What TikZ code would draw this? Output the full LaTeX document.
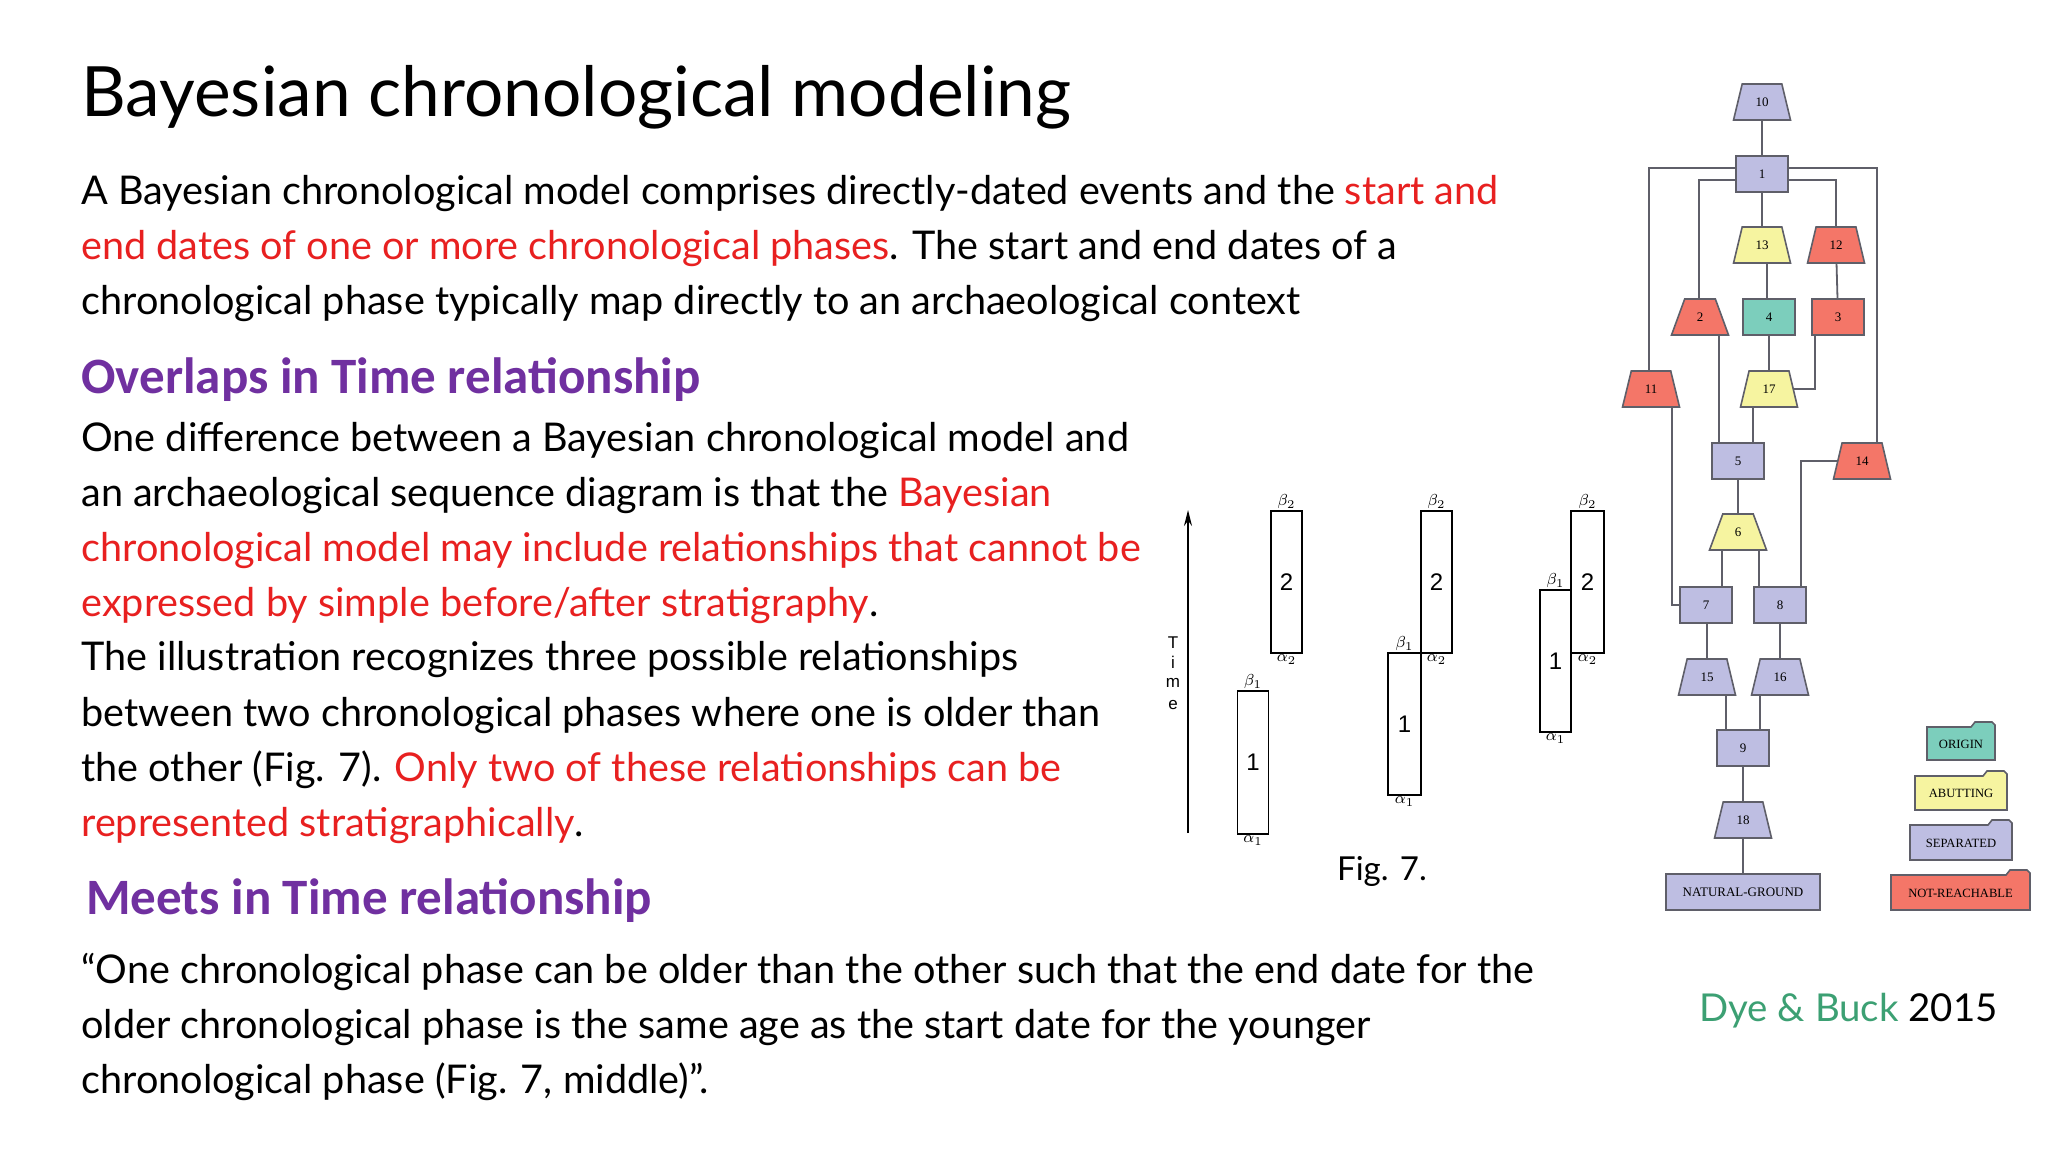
\documentclass[tikz,border=0pt]{standalone}
\usepackage{fontspec}
\setmainfont{Lato}
\newfontfamily\headf{Carlito}
\newfontfamily\figf{Liberation Sans}
\newfontfamily\grf{Liberation Serif}
\usetikzlibrary{shapes.geometric,arrows.meta}
\definecolor{hred}{RGB}{232,32,32}
\definecolor{hpurp}{RGB}{112,48,160}
\definecolor{hgreen}{RGB}{60,160,115}
\definecolor{lav}{RGB}{190,190,226}
\definecolor{gred}{RGB}{244,118,104}
\definecolor{gyel}{RGB}{246,244,160}
\definecolor{gteal}{RGB}{124,206,188}
\definecolor{gline}{RGB}{95,95,105}
\tikzset{
  body/.style={anchor=base west,inner sep=0,font=\fontsize{19.8bp}{23bp}\selectfont},
  head/.style={anchor=base west,inner sep=0,text=hpurp,font=\headf\bfseries\fontsize{25.5bp}{29bp}\selectfont},
  gbox/.style={draw=gline,line width=0.8bp,minimum width=26bp,minimum height=18bp,inner sep=0,font=\grf\fontsize{6.5bp}{7bp}\selectfont},
  grect/.style={gbox,rectangle},
  gtrap/.style={gbox,trapezium,trapezium stretches=true,trapezium left angle=72,trapezium right angle=72,minimum width=28.5bp},
  gcon/.style={draw=gline,line width=0.9bp},
  phase/.style={draw,line width=0.7bp},
  num/.style={font=\figf\fontsize{12bp}{14bp}\selectfont,inner sep=0},
  small/.style={font=\figf\fontsize{8bp}{9bp}\selectfont,inner sep=0.5bp},
  legtxt/.style={font=\grf\fontsize{6.3bp}{7bp}\selectfont,inner sep=0}
}
\begin{document}
\begin{tikzpicture}[x=0.5bp,y=-0.5bp]
\useasboundingbox[fill=white] (0,0) rectangle (2048,1152);
% title and text
\node[anchor=base west,inner sep=0,font=\fontsize{34.7bp}{38bp}\selectfont] (title) at (81,117) {Bayesian chronological modeling};
\node[body] (p1) at (81,205) {A Bayesian chronological model comprises directly-dated events and the \textcolor{hred}{start and}};
\node[body] (p2) at (81,260) {\textcolor{hred}{end dates of one or more chronological phases}. The start and end dates of a};
\node[body] (p3) at (81,315) {chronological phase typically map directly to an archaeological context};
\node[head] (h1) at (81,394) {Overlaps in Time relationship};
\node[body] (q1) at (81,452) {One difference between a Bayesian chronological model and};
\node[body] (q2) at (81,507) {an archaeological sequence diagram is that the \textcolor{hred}{Bayesian}};
\node[body] (q3) at (81,562) {\textcolor{hred}{chronological model may include relationships that cannot be}};
\node[body] (q4) at (81,616) {\textcolor{hred}{expressed by simple before/after stratigraphy}.};
\node[body] (q5) at (81,671) {The illustration recognizes three possible relationships};
\node[body] (q6) at (81,726) {between two chronological phases where one is older than};
\node[body] (q7) at (81,781) {the other (Fig. 7). \textcolor{hred}{Only two of these relationships can be}};
\node[body] (q8) at (81,836) {\textcolor{hred}{represented stratigraphically}.};
\node[head] (h2) at (86,914) {Meets in Time relationship};
\node[body] (r1) at (81,983) {“One chronological phase can be older than the other such that the end date for the};
\node[body] (r2) at (81,1038) {older chronological phase is the same age as the start date for the younger};
\node[body] (r3) at (81,1093) {chronological phase (Fig. 7, middle)”.};
\node[anchor=base east,inner sep=0,font=\fontsize{19.2bp}{23bp}\selectfont] (cite) at (1998,1021) {\textcolor{hgreen}{Dye \& Buck} 2015};
% Fig 7
\coordinate (tb) at (1188,833);
\coordinate (tt) at (1188,510);
\draw[line width=0.8bp,-{Stealth[length=8bp,width=4bp]}] (tb) -- (tt);
\foreach \c/\y in {T/643,i/662,m/683,e/705}
  \node[font=\figf\fontsize{8.5bp}{9bp}\selectfont,inner sep=0] at (1173,\y) {\c};
\node[phase,minimum width=15.5bp,minimum height=71bp,inner sep=0] (a2) at (1286.5,582) {};
\node[phase,minimum width=15.5bp,minimum height=71.5bp,inner sep=0] (a1) at (1253,762.5) {};
\node[phase,minimum width=15.5bp,minimum height=71bp,inner sep=0] (b2) at (1436.5,582) {};
\node[phase,minimum width=16.5bp,minimum height=71bp,inner sep=0] (b1) at (1404.5,724) {};
\node[phase,minimum width=16.5bp,minimum height=71bp,inner sep=0] (c2) at (1587.5,582) {};
\node[phase,minimum width=15.5bp,minimum height=71bp,inner sep=0] (c1) at (1555.5,661) {};
\foreach \n/\t in {a2/2,a1/1,b2/2,b1/1,c2/2,c1/1} \node[num] at (\n) {\t};
\node[small,anchor=south] at (a2.north) {$\beta_2$};
\node[small,anchor=north] at (a2.south) {$\alpha_2$};
\node[small,anchor=south] at (a1.north) {$\beta_1$};
\node[small,anchor=north] at (a1.south) {$\alpha_1$};
\node[small,anchor=south] at (b2.north) {$\beta_2$};
\node[small,anchor=north] at (b2.south) {$\alpha_2$};
\node[small,anchor=south] at (b1.north) {$\beta_1$};
\node[small,anchor=north] at (b1.south) {$\alpha_1$};
\node[small,anchor=south] at (c2.north) {$\beta_2$};
\node[small,anchor=north] at (c2.south) {$\alpha_2$};
\node[small,anchor=south] at (c1.north) {$\beta_1$};
\node[small,anchor=north] at (c1.south) {$\alpha_1$};
\node[anchor=base,inner sep=0,font=\fontsize{16.5bp}{19bp}\selectfont] (fig) at (1382,880) {Fig. 7.};
% Graph
\node[gtrap,fill=lav] (n10) at (1762,102) {10};
\node[grect,fill=lav] (n1) at (1762,174) {1};
\node[gtrap,fill=gyel] (n13) at (1762,245) {13};
\node[gtrap,fill=gred] (n12) at (1836,245) {12};
\node[gtrap,fill=gred] (n2) at (1700,317) {2};
\node[grect,fill=gteal] (n4) at (1769,317) {4};
\node[grect,fill=gred] (n3) at (1838,317) {3};
\node[gtrap,fill=gred] (n11) at (1651,389) {11};
\node[gtrap,fill=gyel] (n17) at (1769,389) {17};
\node[grect,fill=lav] (n5) at (1738,461) {5};
\node[gtrap,fill=gred] (n14) at (1862,461) {14};
\node[gtrap,fill=gyel] (n6) at (1738,532) {6};
\node[grect,fill=lav] (n7) at (1706,605) {7};
\node[grect,fill=lav] (n8) at (1780,605) {8};
\node[gtrap,fill=lav] (n15) at (1707,677) {15};
\node[gtrap,fill=lav] (n16) at (1780,677) {16};
\node[grect,fill=lav] (n9) at (1743,748) {9};
\node[gtrap,fill=lav] (n18) at (1743,820) {18};
\node[grect,fill=lav,minimum width=77bp] (ng) at (1743,892) {NATURAL-GROUND};
\draw[gcon] (n10) -- (n1);
\draw[gcon] (n1) -- (n13);
\draw[gcon] (n1.west |- 0,168) -| (1649,0 |- n11.north);
\draw[gcon] (n1.west |- 0,180) -| (1699,0 |- n2.north);
\draw[gcon] (n1.east |- 0,180) -| (n12.north);
\draw[gcon] (n1.east |- 0,168) -| (1877,0 |- n14.north);
\draw[gcon] (1767,0 |- n13.south) -- (1767,0 |- n4.north);
\draw[gcon] (n12) -- (n3);
\draw[gcon] (n4) -- (n17);
\draw[gcon] (1815,0 |- n3.south) |- (n17.east);
\draw[gcon] (1719,0 |- n2.south) -- (1719,0 |- n5.north);
\draw[gcon] (1753,0 |- n17.south) -- (1753,0 |- n5.north);
\draw[gcon] (1672,0 |- n11.south) |- (n7.west);
\draw[gcon] (n14.west) -| (1801,0 |- n8.north);
\draw[gcon] (n5) -- (n6);
\draw[gcon] (1722,0 |- n6.south) -- (1722,0 |- n7.north);
\draw[gcon] (1759,0 |- n6.south) -- (1759,0 |- n8.north);
\draw[gcon] (1707,0 |- n7.south) -- (n15.north);
\draw[gcon] (n8) -- (n16);
\draw[gcon] (1726,0 |- n15.south) -- (1726,0 |- n9.north);
\draw[gcon] (1760,0 |- n16.south) -- (1760,0 |- n9.north);
\draw[gcon] (n9) -- (n18);
\draw[gcon] (n18) -- (ng);
% legend folders
\foreach \xa/\xb/\ya/\yb/\col/\nm/\t in {
  1927/1995/722/760/gteal/lo/ORIGIN,
  1915/2007/771/810/gyel/la/ABUTTING,
  1910/2012/820/860/lav/ls/SEPARATED,
  1891/2030/870/910/gred/ln/NOT-REACHABLE}{
  \draw[draw=gline,line width=0.8bp,fill=\col] (\xa,\ya+5) -- (\xb-24,\ya+5) -- (\xb-20,\ya) -- (\xb-3,\ya) -- (\xb,\ya+3) -- (\xb,\yb) -- (\xa,\yb) -- cycle;
  \node[legtxt] (\nm) at ({(\xa+\xb)/2},{(\ya+\yb)/2+3}) {\t};
}
\end{tikzpicture}
\end{document}
